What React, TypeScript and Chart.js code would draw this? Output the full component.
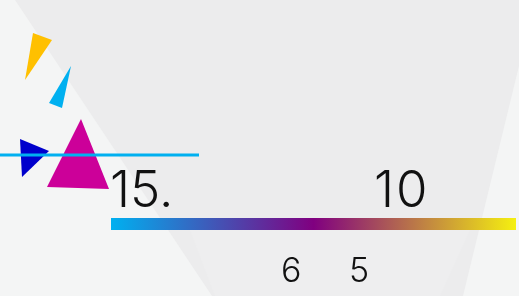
import React, { useEffect, useRef } from "react";
import { Chart, registerables } from "chart.js";

Chart.register(...registerables);

// hidden axis ranges
const xRange = [0, 519];
const yRange = [0, 296];

// text values
const topLabels = ["15.", "10"];
const topLabelX = [110, 374];
const topLabelY = 207;
const topLabelSpacing = ["0px", "2px"];
const bottomLabels = ["6", "5"];
const bottomLabelX = [281, 349];
const bottomLabelY = 282;

// decorative triangle marks (x, y on hidden axes)
const yellowX = [33, 52, 25];
const yellowY = [33, 40, 80];
const cyanX = [71, 49, 62];
const cyanY = [66, 103, 108];
const blueX = [20, 49, 22];
const blueY = [139, 151, 177];
const magentaX = [81, 47, 109];
const magentaY = [119, 187, 189];

// rule line
const ruleX = [0, 199];
const ruleY = [155, 155];

// gradient bar
const barX = [111, 516];
const barY = [224, 224];
const barStops = [0, 0.5, 1];
const barColors = ["#00B0F0", "#800080", "#F5F010"];

// background light wedges
const leftWedgeX = [0, 15, 212, 0];
const leftWedgeY = [0, 0, 296, 296];
const rightWedgeX = [519, 519, 463];
const rightWedgeY = [66, 296, 296];
const midWedgeX = [190, 470, 440, 215];
const midWedgeY = [230, 230, 296, 296];

const pts = (xs: number[], ys: number[]) => xs.map((x, i) => ({ x, y: ys[i] }));

const bgPlugin = {
  id: "bg",
  beforeDraw(chart: any) {
    const { ctx, scales } = chart;
    const sx = scales.x, sy = scales.y;
    ctx.save();
    ctx.fillStyle = "#ececed";
    ctx.fillRect(0, 0, chart.width, chart.height);
    const shapes: [number[], number[], string][] = [
      [midWedgeX, midWedgeY, "#eeeeef"],
      [leftWedgeX, leftWedgeY, "#f4f5f5"],
      [rightWedgeX, rightWedgeY, "#f4f5f5"],
    ];
    for (const [xs, ys, col] of shapes) {
      ctx.fillStyle = col;
      ctx.beginPath();
      xs.forEach((x, i) => {
        const px = sx.getPixelForValue(x);
        const py = sy.getPixelForValue(ys[i]);
        if (i === 0) ctx.moveTo(px, py);
        else ctx.lineTo(px, py);
      });
      ctx.closePath();
      ctx.fill();
    }
    ctx.restore();
  },
};

const textPlugin = {
  id: "texts",
  afterDatasetsDraw(chart: any) {
    const { ctx, scales } = chart;
    const sx = scales.x, sy = scales.y;
    ctx.save();
    ctx.fillStyle = "#111111";
    ctx.textAlign = "left";
    ctx.textBaseline = "alphabetic";
    ctx.font = "300 51px Inter, 'DejaVu Sans', sans-serif";
    topLabels.forEach((t, i) => {
      (ctx as any).letterSpacing = topLabelSpacing[i];
      ctx.fillText(t, sx.getPixelForValue(topLabelX[i]), sy.getPixelForValue(topLabelY));
    });
    (ctx as any).letterSpacing = "0px";
    ctx.font = "300 34px Inter, 'DejaVu Sans', sans-serif";
    bottomLabels.forEach((t, i) => ctx.fillText(t, sx.getPixelForValue(bottomLabelX[i]), sy.getPixelForValue(bottomLabelY)));
    ctx.restore();
  },
};

const tri = (xs: number[], ys: number[], color: string) => ({
  data: pts(xs, ys),
  backgroundColor: color,
  borderColor: color,
  borderWidth: 0,
  pointRadius: 0,
  fill: "shape",
  tension: 0,
});

export default function App() {
  const ref = useRef<HTMLCanvasElement>(null);
  useEffect(() => {
    document.body.style.margin = "0";
    if (!ref.current) return;
    const chart = new Chart(ref.current, {
      type: "line",
      data: {
        datasets: [
          {
            data: pts(ruleX, ruleY),
            borderColor: "#00B0F0",
            borderWidth: 3,
            pointRadius: 0,
            fill: false,
            borderCapStyle: "butt",
          },
          {
            data: pts(barX, barY),
            borderColor: (c: any) => {
              const ch = c.chart;
              if (!ch.chartArea) return barColors[0];
              const sx = ch.scales.x;
              const g = ch.ctx.createLinearGradient(sx.getPixelForValue(barX[0]), 0, sx.getPixelForValue(barX[1]), 0);
              barStops.forEach((s, i) => g.addColorStop(s, barColors[i]));
              return g;
            },
            borderWidth: 12,
            pointRadius: 0,
            fill: false,
            borderCapStyle: "butt",
          },
          tri(magentaX, magentaY, "#CC0099"),
          tri(blueX, blueY, "#0000CC"),
          tri(cyanX, cyanY, "#00B0F0"),
          tri(yellowX, yellowY, "#FFC000"),
        ] as any,
      },
      options: {
        animation: false,
        responsive: false,
        layout: { padding: 0 },
        plugins: { legend: { display: false }, tooltip: { enabled: false } },
        scales: {
          x: { type: "linear", min: xRange[0], max: xRange[1], display: false },
          y: { type: "linear", min: yRange[0], max: yRange[1], reverse: true, display: false },
        },
      },
      plugins: [bgPlugin, textPlugin],
    });
    return () => chart.destroy();
  }, []);
  return (
    <div style={{ width: 519, height: 296 }}>
      <canvas ref={ref} width={519} height={296} style={{ display: "block" }} />
    </div>
  );
}
